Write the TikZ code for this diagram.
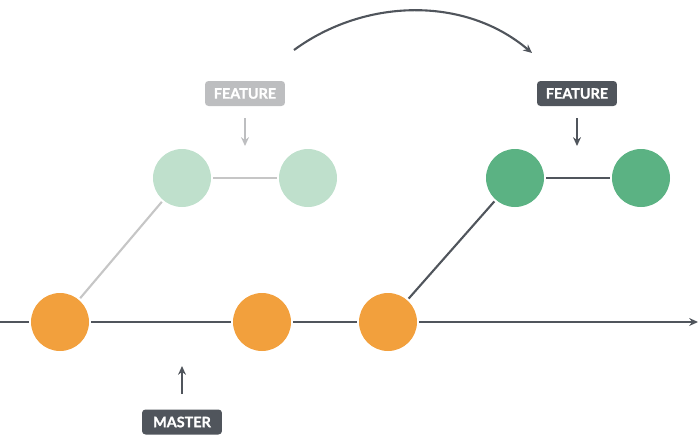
\documentclass[tikz,border=0pt]{standalone}
\usepackage{fontspec}
\setmainfont{Lato}
\newfontfamily\tagfont[BoldFeatures={FakeBold=1.2}]{Lato}
\usetikzlibrary{arrows.meta}
\definecolor{orangeC}{HTML}{F2A03D}
\definecolor{lgreen}{HTML}{BFE0CC}
\definecolor{dgreen}{HTML}{5BB283}
\definecolor{dgray}{HTML}{50555C}
\definecolor{lgray}{HTML}{BDBEC0}
\definecolor{lline}{HTML}{C6C6C6}
\tikzset{
  x=0.02cm, y=-0.02cm,
  commit/.style={circle, minimum size=1.16cm, inner sep=0pt, outer sep=0.044cm},
  ocommit/.style={commit, fill=orangeC},
  lcommit/.style={commit, fill=lgreen},
  gcommit/.style={commit, fill=dgreen},
  tag/.style={rounded corners=2pt, minimum width=1.6cm, minimum height=0.5cm, inner sep=0pt, text=white, font=\tagfont\bfseries\fontsize{8.2}{9}\selectfont},
  darkline/.style={draw=dgray, line width=1.2pt},
  lightline/.style={draw=lline, line width=1.2pt},
  tip/.style={-{Stealth[length=5pt,width=4.5pt]}},
}
\begin{document}
\begin{tikzpicture}
\useasboundingbox (0,0) rectangle (700,437);
% commits
\node[ocommit] (o1) at (60,322) {};
\node[ocommit] (o2) at (262,322) {};
\node[ocommit] (o3) at (388,322) {};
\node[lcommit] (l1) at (182,178) {};
\node[lcommit] (l2) at (308,178) {};
\node[gcommit] (g1) at (515,178) {};
\node[gcommit] (g2) at (641,178) {};
\coordinate (start) at (0,322);
\coordinate (end) at (698,322);
% master line
\draw[darkline] (start) -- (o1);
\draw[darkline] (o1) -- (o2);
\draw[darkline] (o2) -- (o3);
\draw[darkline, tip] (o3) -- (end);
% branches
\draw[lightline] (o1) -- (l1);
\draw[lightline] (l1) -- (l2);
\draw[darkline] (o3) -- (g1);
\draw[darkline] (g1) -- (g2);
% labels
\node[tag, fill=lgray] (fl) at (245,93.5) {FEATURE};
\node[tag, fill=dgray] (fd) at (577,93.5) {FEATURE};
\node[tag, fill=dgray] (ms) at (182,422) {MASTER};
\coordinate (fla) at (245,118);
\coordinate (flb) at (245,146);
\coordinate (fda) at (577,118);
\coordinate (fdb) at (577,146);
\coordinate (msa) at (182,394);
\coordinate (msb) at (182,366);
\draw[lightline, draw=lgray, tip] (fla) -- (flb);
\draw[darkline, tip] (fda) -- (fdb);
\draw[darkline, tip] (msa) -- (msb);
% curved arrow
\coordinate (ca) at (294,50);
\coordinate (cb) at (532,53);
\draw[darkline, tip] (ca) .. controls (365,-2) and (465,-4) .. (cb);
\end{tikzpicture}
\end{document}
